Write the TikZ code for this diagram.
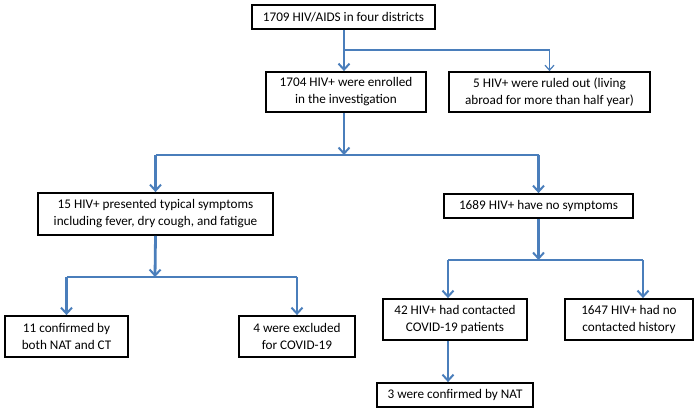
\documentclass[tikz,border=0pt]{standalone}
\usepackage{fontspec}
\setmainfont{Carlito}
\usetikzlibrary{arrows.meta}

\definecolor{flowblue}{HTML}{4A7EBB}
\tikzset{
  box/.style={draw=black,line width=1.8pt,align=center,inner sep=0pt,font=\fontsize{13.2pt}{17pt}\selectfont},
  flow/.style={draw=flowblue,line width=2.8pt,-{Straight Barb[length=6pt,width=11pt,line width=2pt]}},
  thinflow/.style={draw=flowblue,line width=1.2pt,-{Straight Barb[length=5pt,width=9pt,line width=1.2pt]}},
  bar/.style={draw=flowblue,line width=2.8pt}
}

\begin{document}
\begin{tikzpicture}[x=1pt,y=-1pt]
      \useasboundingbox (0,0) rectangle (700,412);

      \node[box,minimum width=183pt,minimum height=24pt] (total) at (343.5,17) {1709 HIV/AIDS in four districts};
      \node[box,minimum width=160pt,minimum height=40pt] (enrolled) at (346,92) {1704 HIV+ were enrolled\\in the investigation};
      \node[box,minimum width=201pt,minimum height=40pt] (ruled) at (549.5,92) {5 HIV+ were ruled out (living\\abroad for more than half year)};
      \node[box,minimum width=235pt,minimum height=42pt] (sympt) at (155.5,214) {15 HIV+ presented typical symptoms\\including fever, dry cough, and fatigue};
      \node[box,minimum width=189pt,minimum height=24pt] (nosympt) at (538.5,206) {1689 HIV+ have no symptoms};
      \node[box,minimum width=123pt,minimum height=41pt] (confirmed) at (66.5,336.5) {11 confirmed by\\both NAT and CT};
      \node[box,minimum width=116pt,minimum height=41pt] (excluded) at (297,336.5) {4 were excluded\\for COVID-19};
      \node[box,minimum width=144pt,minimum height=41pt] (contact) at (455,319.5) {42 HIV+ had contacted\\COVID-19 patients};
      \node[box,minimum width=128pt,minimum height=41pt] (nocontact) at (629,319.5) {1647 HIV+ had no\\contacted history};
      \node[box,minimum width=156pt,minimum height=24pt] (nat) at (455,395) {3 were confirmed by NAT};

      % junctions of the branches
      \coordinate (split0) at (344,50);
      \coordinate (split1) at (344,155);
      \coordinate (split2) at (155,277);
      \coordinate (left3) at (448,260);
      \coordinate (right3) at (643,260);

      \draw[flow] (split0 |- total.south) -- (split0 |- enrolled.north);
      \draw[thinflow] (split0) -| (ruled.north);

      \draw[flow] (split1 |- enrolled.south) -- (split1);
      \draw[bar] (sympt |- split1) -- (nosympt |- split1);
      \draw[flow] (sympt |- split1) -- (sympt.north);
      \draw[flow] (nosympt |- split1) -- (nosympt.north);

      \draw[flow] (sympt.south) -- (split2);
      \draw[bar] (confirmed |- split2) -- (excluded |- split2);
      \draw[flow] (confirmed |- split2) -- (confirmed.north);
      \draw[flow] (excluded |- split2) -- (excluded.north);

      \draw[flow] (nosympt.south) -- (nosympt |- left3);
      \draw[bar] (left3) -- (right3);
      \draw[flow] (left3) -- (left3 |- contact.north);
      \draw[flow] (right3) -- (right3 |- nocontact.north);

      \draw[flow] (left3 |- contact.south) -- (left3 |- nat.north);
\end{tikzpicture}
\end{document}
